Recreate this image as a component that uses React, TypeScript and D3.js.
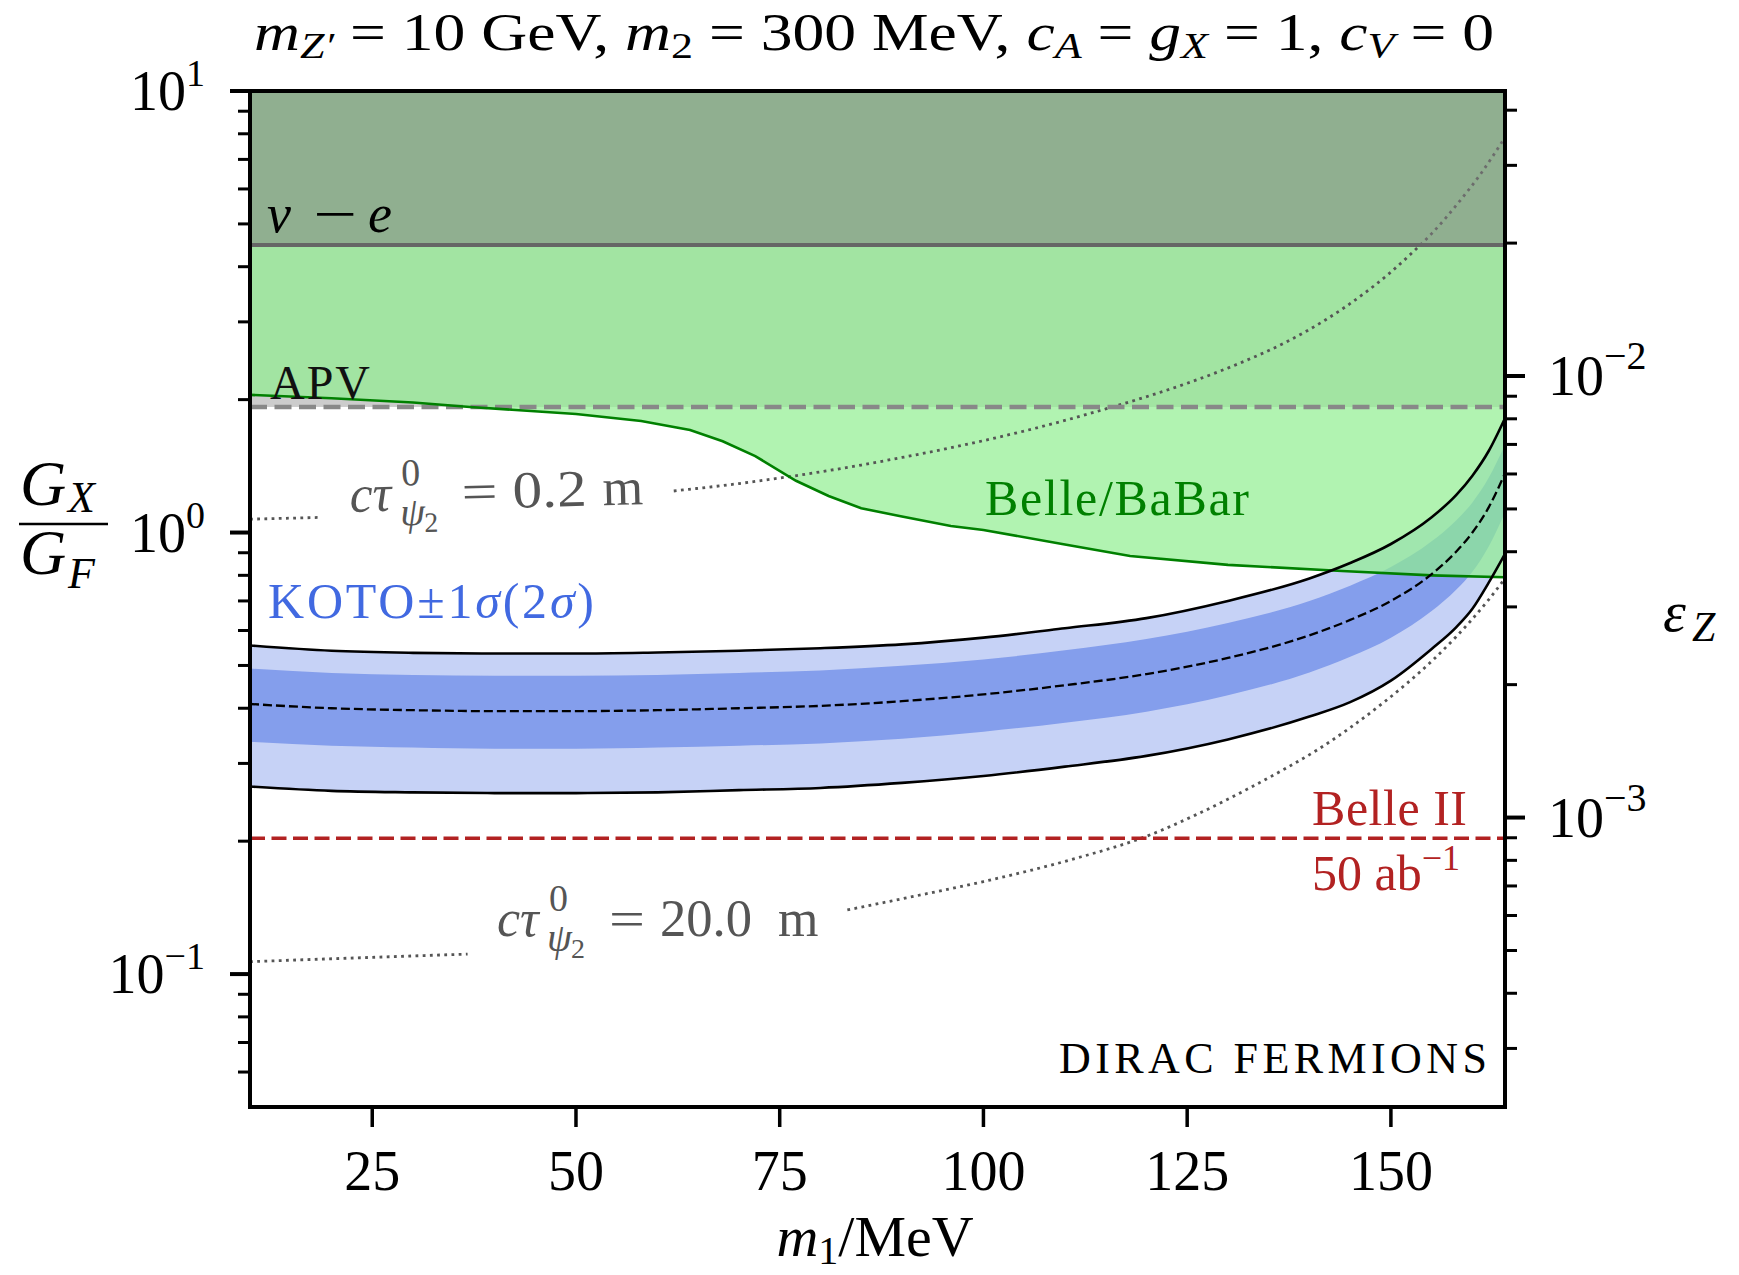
import * as d3 from "d3";
import React from "react";

// KOTO preferred band, G_X/G_F versus m1 (MeV)
const m1Koto = [10, 20, 30, 40, 50, 60, 70, 80, 90, 100, 110, 120, 130, 140, 145, 150, 155, 158, 160, 162, 164];
const kotoCentral = [0.409, 0.4, 0.396, 0.394, 0.394, 0.396, 0.4, 0.405, 0.415, 0.43, 0.451, 0.478, 0.52, 0.585, 0.634, 0.7, 0.805, 0.905, 1.0, 1.14, 1.362];
const kotoUp2 = [0.555, 0.54, 0.534, 0.532, 0.532, 0.535, 0.54, 0.547, 0.558, 0.578, 0.607, 0.64, 0.7, 0.787, 0.853, 0.942, 1.083, 1.215, 1.345, 1.53, 1.815];
const kotoUp1 = [0.492, 0.481, 0.476, 0.474, 0.474, 0.476, 0.481, 0.487, 0.499, 0.516, 0.541, 0.574, 0.624, 0.7, 0.758, 0.835, 0.955, 1.065, 1.17, 1.33, 1.58];
const kotoLo1 = [0.336, 0.329, 0.326, 0.324, 0.324, 0.326, 0.329, 0.333, 0.341, 0.354, 0.371, 0.393, 0.428, 0.482, 0.523, 0.578, 0.664, 0.742, 0.815, 0.93, 1.11];
const kotoLo2 = [0.266, 0.26, 0.258, 0.257, 0.257, 0.258, 0.261, 0.264, 0.271, 0.281, 0.295, 0.312, 0.34, 0.383, 0.413, 0.462, 0.545, 0.61, 0.672, 0.77, 0.895];

// Belle/BaBar bound
const m1Belle = [10, 20, 30, 37, 50, 58, 64, 68, 72, 77, 81, 85, 90, 96, 100, 110, 118, 130, 144, 155, 164];
const gBelle = [2.05, 2.015, 1.97, 1.925, 1.856, 1.789, 1.707, 1.61, 1.49, 1.31, 1.21, 1.135, 1.087, 1.035, 1.013, 0.94, 0.885, 0.845, 0.818, 0.8, 0.792];

// horizontal bounds
const gNuE = 4.48;
const gAPV = 1.925;
const gBelle2 = 0.203;

// c tau = 0.2 m contour (two pieces around the inline label)
const m1Ct02a = [10, 18.5];
const gCt02a = [1.072, 1.082];
const m1Ct02b = [62, 70, 76, 85, 90, 96, 105, 115, 119, 125, 131.5, 137, 142, 146.6, 150, 152.5, 155, 158.5, 161, 164];
const gCt02b = [1.242, 1.291, 1.337, 1.422, 1.479, 1.556, 1.698, 1.905, 2.004, 2.178, 2.421, 2.692, 3.034, 3.467, 3.89, 4.285, 4.753, 5.649, 6.486, 7.852];

// c tau = 20.0 m contour
const m1Ct20a = [10, 23, 36.7];
const gCt20a = [0.1067, 0.1088, 0.111];
const m1Ct20b = [83.3, 90, 100, 110.7, 120.4, 126, 132.7, 137, 140.9, 145, 149.1, 152, 155.2, 158, 159.7, 162, 164];
const gCt20b = [0.1397, 0.1481, 0.162, 0.1815, 0.2065, 0.2291, 0.2642, 0.2917, 0.3214, 0.3614, 0.4121, 0.456, 0.5152, 0.5808, 0.6281, 0.7047, 0.787];

// axes
const m1Ticks = [25, 50, 75, 100, 125, 150];
const gMajorTicks = [0.1, 1, 10];
const gMajorExp = ["−1", "0", "1"];
const epsMajorTicks = [1e-3, 1e-2];
const epsMajorExp = ["−3", "−2"];
const epsZPerGX = 0.01 / 2.262;

const FONT = "'Liberation Serif', 'Times New Roman', serif";

const L = 250, R = 1505, T = 91, B = 1107;

const CtauLabel = ({ x, y, value, valueW, mDx, rot = 0 }: { x: number; y: number; value: string; valueW: number; mDx: number; rot?: number }) => (
  <g fill="#555555" fontFamily={FONT} transform={`rotate(${rot},${x + 150},${y})`}>
    <text x={x} y={y} fontSize={52} fontStyle="italic">cτ</text>
    <text x={x + 52} y={y - 25} fontSize={38}>0</text>
    <text x={x + 50} y={y + 15} fontSize={40} fontStyle="italic">ψ</text>
    <text x={x + 74} y={y + 22} fontSize={28}>2</text>
    <text x={x + 112} y={y} fontSize={50} textLength={36} lengthAdjust="spacingAndGlyphs">=</text>
    <text x={x + 163} y={y} fontSize={52} textLength={valueW} lengthAdjust="spacingAndGlyphs">{value}</text>
    <text x={x + mDx} y={y} fontSize={52}>m</text>
  </g>
);

export default function App() {
  const x = d3.scaleLinear().domain([10, 164]).range([L, R]);
  const y = d3.scaleLog().domain([0.05, 10]).range([B, T]);
  const yR = d3.scaleLog().domain([0.05 * epsZPerGX, 10 * epsZPerGX]).range([B, T]);

  const idx = (arr: number[]) => arr.map((_, i) => i);

  const band = (lo: number[], hi: number[]) =>
    d3.area<number>()
      .x((i) => x(m1Koto[i]))
      .y0((i) => y(lo[i]))
      .y1((i) => y(hi[i]))
      .curve(d3.curveMonotoneX)(idx(m1Koto)) ?? "";

  const line = (xs: number[], ys: number[], curve: d3.CurveFactory = d3.curveMonotoneX) =>
    d3.line<number>()
      .x((i) => x(xs[i]))
      .y((i) => y(ys[i]))
      .curve(curve)(idx(xs)) ?? "";

  const belleArea =
    d3.area<number>()
      .x((i) => x(m1Belle[i]))
      .y0((i) => y(gBelle[i]))
      .y1(() => y(10))(idx(m1Belle)) ?? "";

  const gMinor = y.ticks().filter((v) => !gMajorTicks.some((m) => Math.abs(m - v) / m < 1e-6) && v > 0.0501);
  const epsMinor = yR.ticks().filter((v) => !epsMajorTicks.some((m) => Math.abs(m - v) / m < 1e-6));

  return (
    <svg width={1739} height={1275} style={{ position: "absolute", left: 0, top: 0, background: "#fff" }} fontFamily={FONT}>
      <defs>
        <clipPath id="plot">
          <rect x={L} y={T} width={R - L} height={B - T} />
        </clipPath>
      </defs>

      {/* title */}
      <text x={254} y={50} fontSize={52} textLength={1240} lengthAdjust="spacingAndGlyphs">
        <tspan fontStyle="italic">m</tspan>
        <tspan fontSize={36} fontStyle="italic" dy={8}>Z′</tspan>
        <tspan dy={-8}> = 10 GeV, </tspan>
        <tspan fontStyle="italic">m</tspan>
        <tspan fontSize={36} dy={8}>2</tspan>
        <tspan dy={-8}> = 300 MeV, </tspan>
        <tspan fontStyle="italic">c</tspan>
        <tspan fontSize={36} fontStyle="italic" dy={8}>A</tspan>
        <tspan dy={-8}> = </tspan>
        <tspan fontStyle="italic">g</tspan>
        <tspan fontSize={36} fontStyle="italic" dy={8}>X</tspan>
        <tspan dy={-8}> = 1, </tspan>
        <tspan fontStyle="italic">c</tspan>
        <tspan fontSize={36} fontStyle="italic" dy={8}>V</tspan>
        <tspan dy={-8}> = 0</tspan>
      </text>

      <g clipPath="url(#plot)">
        {/* KOTO bands */}
        <path d={band(kotoLo2, kotoUp2)} fill="#4169e1" fillOpacity={0.3} />
        <path d={band(kotoLo1, kotoUp1)} fill="#4169e1" fillOpacity={0.5} />

        {/* APV excluded */}
        <rect x={L} y={T} width={R - L} height={y(gAPV) - T} fill="#808080" fillOpacity={0.4} />
        {/* Belle / BaBar excluded */}
        <path d={belleArea} fill="#90ee90" fillOpacity={0.7} />

        {/* c tau contours */}
        <g fill="none" stroke="#555555" strokeWidth={2.8} strokeDasharray="2.8 4.4">
          <path d={line(m1Ct02a, gCt02a)} />
          <path d={line(m1Ct02b, gCt02b)} />
          <path d={line(m1Ct20a, gCt20a)} />
          <path d={line(m1Ct20b, gCt20b)} />
        </g>

        {/* nu - e excluded */}
        <rect x={L} y={T} width={R - L} height={y(gNuE) - T} fill="#808080" fillOpacity={0.53} />
        <line x1={L} x2={R} y1={y(gNuE)} y2={y(gNuE)} stroke="#666666" strokeWidth={4} />

        <line x1={L} x2={R} y1={y(gAPV)} y2={y(gAPV)} stroke="#888888" strokeWidth={4.5} strokeDasharray="17 7.5" />
        <path d={line(m1Belle, gBelle, d3.curveLinear)} fill="none" stroke="green" strokeWidth={2.6} />

        {/* KOTO lines */}
        <path d={line(m1Koto, kotoUp2)} fill="none" stroke="#000" strokeWidth={2.6} />
        <path d={line(m1Koto, kotoLo2)} fill="none" stroke="#000" strokeWidth={2.6} />
        <path d={line(m1Koto, kotoCentral)} fill="none" stroke="#000" strokeWidth={2.3} strokeDasharray="9 4" />

        {/* Belle II projection */}
        <line x1={L} x2={R} y1={y(gBelle2)} y2={y(gBelle2)} stroke="#b22222" strokeWidth={3.6} strokeDasharray="15 6.5" />
      </g>

      {/* in-plot labels */}
      <g fontSize={54}>
        <text x={267} y={232} fontStyle="italic">ν</text>
        <text x={313} y={232} textLength={44} lengthAdjust="spacingAndGlyphs">−</text>
        <text x={368} y={232} fontStyle="italic">e</text>
      </g>
      <text x={270} y={399} fontSize={48} fill="#111" textLength={100}>APV</text>
      <CtauLabel x={350} y={508} value="0.2" valueW={74} mDx={253} rot={-1.5} />
      <CtauLabel x={497} y={936} value="20.0" valueW={92} mDx={281} />
      <text x={985} y={515} fontSize={50} fill="green" textLength={264} lengthAdjust="spacing">Belle/BaBar</text>
      <text x={268} y={618} fontSize={50} fill="#4169e1" textLength={326} lengthAdjust="spacing">
        KOTO±1<tspan fontStyle="italic">σ</tspan>(2<tspan fontStyle="italic">σ</tspan>)
      </text>
      <text x={1312} y={825} fontSize={50} fill="#b22222" textLength={155} lengthAdjust="spacing">Belle II</text>
      <text x={1312} y={890} fontSize={50} fill="#b22222">
        50 ab<tspan fontSize={36} dy={-20}>−1</tspan>
      </text>
      <text x={1059} y={1073} fontSize={44} textLength={428} lengthAdjust="spacing">DIRAC FERMIONS</text>

      {/* frame */}
      <rect x={L} y={T} width={R - L} height={B - T} fill="none" stroke="#000" strokeWidth={4} />

      {/* bottom axis */}
      {m1Ticks.map((t) => (
        <g key={`xt${t}`}>
          <line x1={x(t)} x2={x(t)} y1={B} y2={B + 20} stroke="#000" strokeWidth={3.5} />
          <text x={x(t)} y={1190} fontSize={56} textAnchor="middle">{t}</text>
        </g>
      ))}
      <text x={875} y={1256} fontSize={58} textAnchor="middle">
        <tspan fontStyle="italic">m</tspan>
        <tspan fontSize={40} dy={8}>1</tspan>
        <tspan dy={-8}>/MeV</tspan>
      </text>

      {/* left axis */}
      {gMinor.map((v) => (
        <line key={`gm${v}`} x1={L - 12} x2={L} y1={y(v)} y2={y(v)} stroke="#000" strokeWidth={3} />
      ))}
      {gMajorTicks.map((v, i) => (
        <g key={`gM${v}`}>
          <line x1={L - 20} x2={L} y1={y(v)} y2={y(v)} stroke="#000" strokeWidth={4} />
          <text x={205} y={y(v) + 19} fontSize={56} textAnchor="end">
            10<tspan fontSize={38} dy={-24}>{gMajorExp[i]}</tspan>
          </text>
        </g>
      ))}
      <g fontStyle="italic">
        <text x={20} y={505} fontSize={64}>G</text>
        <text x={68} y={512} fontSize={44}>X</text>
        <line x1={19} x2={108} y1={524} y2={524} stroke="#000" strokeWidth={2.5} />
        <text x={20} y={574} fontSize={64}>G</text>
        <text x={68} y={588} fontSize={44}>F</text>
      </g>

      {/* right axis */}
      {epsMinor.map((v) => (
        <line key={`em${v}`} x1={R} x2={R + 12} y1={yR(v)} y2={yR(v)} stroke="#000" strokeWidth={3} />
      ))}
      {epsMajorTicks.map((v, i) => (
        <g key={`eM${v}`}>
          <line x1={R} x2={R + 20} y1={yR(v)} y2={yR(v)} stroke="#000" strokeWidth={4} />
          <text x={1548} y={yR(v) + 19} fontSize={56}>
            10<tspan fontSize={40} dy={-26}>{epsMajorExp[i]}</tspan>
          </text>
        </g>
      ))}
      <text x={1663} y={631} fontSize={58} fontStyle="italic">ε</text>
      <text x={1692} y={641} fontSize={42} fontStyle="italic">Z</text>
    </svg>
  );
}
